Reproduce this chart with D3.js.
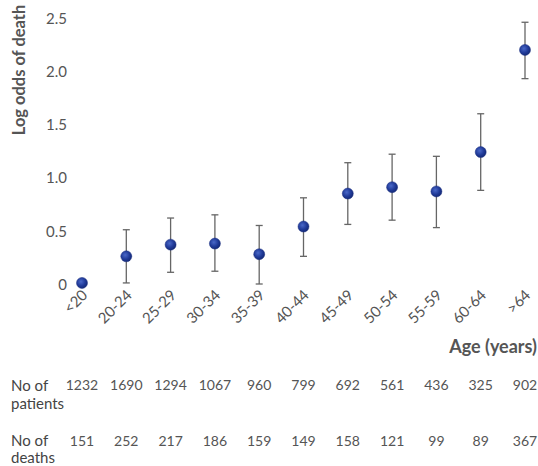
<!DOCTYPE html>
<html><head><meta charset="utf-8">
<script src="https://cdn.jsdelivr.net/npm/d3@7"></script>
<style>
body{margin:0;background:#fff;}
text{font-family:Lato,"Liberation Sans",sans-serif;}
</style></head>
<body>
<svg id="c" width="538" height="466"></svg>
<script>
const categories = ["<20","20-24","25-29","30-34","35-39","40-44","45-49","50-54","55-59","60-64",">64"];
const logOdds   = [0.01,0.26,0.37,0.38,0.28,0.54,0.85,0.91,0.87,1.24,2.20];
const lowerCI   = [0.01,0.01,0.11,0.12,0.00,0.26,0.56,0.60,0.53,0.88,1.93];
const upperCI   = [0.01,0.51,0.62,0.65,0.55,0.81,1.14,1.22,1.20,1.60,2.46];
const patients  = [1232,1690,1294,1067,960,799,692,561,436,325,902];
const deaths    = [151,252,217,186,159,149,158,121,99,89,367];
const yTicks    = [0,0.5,1.0,1.5,2.0,2.5];

const svg = d3.select("#c");
const x = d3.scalePoint().domain(categories).range([82,525]);
const y = d3.scaleLinear().domain([0,2.5]).range([284,18]);

const defs = svg.append("defs");
const g = defs.append("radialGradient").attr("id","dot").attr("cx","40%").attr("cy","38%").attr("r","65%");
g.append("stop").attr("offset","0%").attr("stop-color","#4a68c8");
g.append("stop").attr("offset","60%").attr("stop-color","#203a98");
g.append("stop").attr("offset","100%").attr("stop-color","#132873");

// y axis
const ya = svg.append("g").attr("transform","translate(72,0)")
  .call(d3.axisLeft(y).tickValues(yTicks).tickSize(0).tickPadding(5)
    .tickFormat(d => d===0 ? "0" : d3.format(".1f")(d)));
ya.select(".domain").remove();
ya.selectAll("text").attr("font-size",15).attr("fill","#555").attr("dy","0.35em")
  .style("font-family","Lato,'Liberation Sans',sans-serif");

svg.append("text").attr("transform","translate(25,70) rotate(-90)")
  .attr("text-anchor","middle").attr("font-size",16.5).attr("font-weight","bold")
  .attr("fill","#555").text("Log odds of death");

// x axis
const xa = svg.append("g").attr("transform","translate(0,290)")
  .call(d3.axisBottom(x).tickSize(0).tickPadding(0));
xa.select(".domain").remove();
xa.selectAll("text").attr("font-size",15).attr("fill","#555")
  .style("font-family","Lato,'Liberation Sans',sans-serif")
  .attr("text-anchor","end").attr("dy","0").attr("y",0)
  .attr("transform","translate(6,6) rotate(-45)");

svg.append("text").attr("x",537).attr("y",353).attr("text-anchor","end")
  .attr("font-size",18).attr("font-weight","bold").attr("fill","#555").text("Age (years)");

// error bars
const eb = svg.append("g").attr("stroke","#666").attr("stroke-width",1.3);
categories.forEach((c,i)=>{
  if (upperCI[i]-lowerCI[i] < 0.02) return;
  const cx = x(c);
  eb.append("line").attr("x1",cx).attr("x2",cx).attr("y1",y(upperCI[i])).attr("y2",y(lowerCI[i]));
  eb.append("line").attr("x1",cx-3.5).attr("x2",cx+3.5).attr("y1",y(upperCI[i])).attr("y2",y(upperCI[i]));
  eb.append("line").attr("x1",cx-3.5).attr("x2",cx+3.5).attr("y1",y(lowerCI[i])).attr("y2",y(lowerCI[i]));
});

// points
svg.append("g").selectAll("circle").data(categories).join("circle")
  .attr("cx",d=>x(d)).attr("cy",(d,i)=>y(logOdds[i])).attr("r",5.5)
  .attr("fill","url(#dot)").attr("stroke","#1a2f80").attr("stroke-width",0.5);

// table
const t = svg.append("g");
t.append("text").attr("x",11).attr("y",391).attr("font-size",15).attr("fill","#444").text("No of");
t.append("text").attr("x",11).attr("y",409).attr("font-size",15).attr("fill","#444").text("patients");
t.append("text").attr("x",11).attr("y",446).attr("font-size",15).attr("fill","#444").text("No of");
t.append("text").attr("x",11).attr("y",463).attr("font-size",15).attr("fill","#444").text("deaths");
t.selectAll(".p").data(patients).join("text").attr("class","p")
  .attr("x",(d,i)=>x(categories[i])).attr("y",390).attr("text-anchor","middle")
  .attr("font-size",14).attr("fill","#555").text(d=>d);
t.selectAll(".d").data(deaths).join("text").attr("class","d")
  .attr("x",(d,i)=>x(categories[i])).attr("y",446).attr("text-anchor","middle")
  .attr("font-size",14).attr("fill","#555").text(d=>d);
</script>
</body></html>
